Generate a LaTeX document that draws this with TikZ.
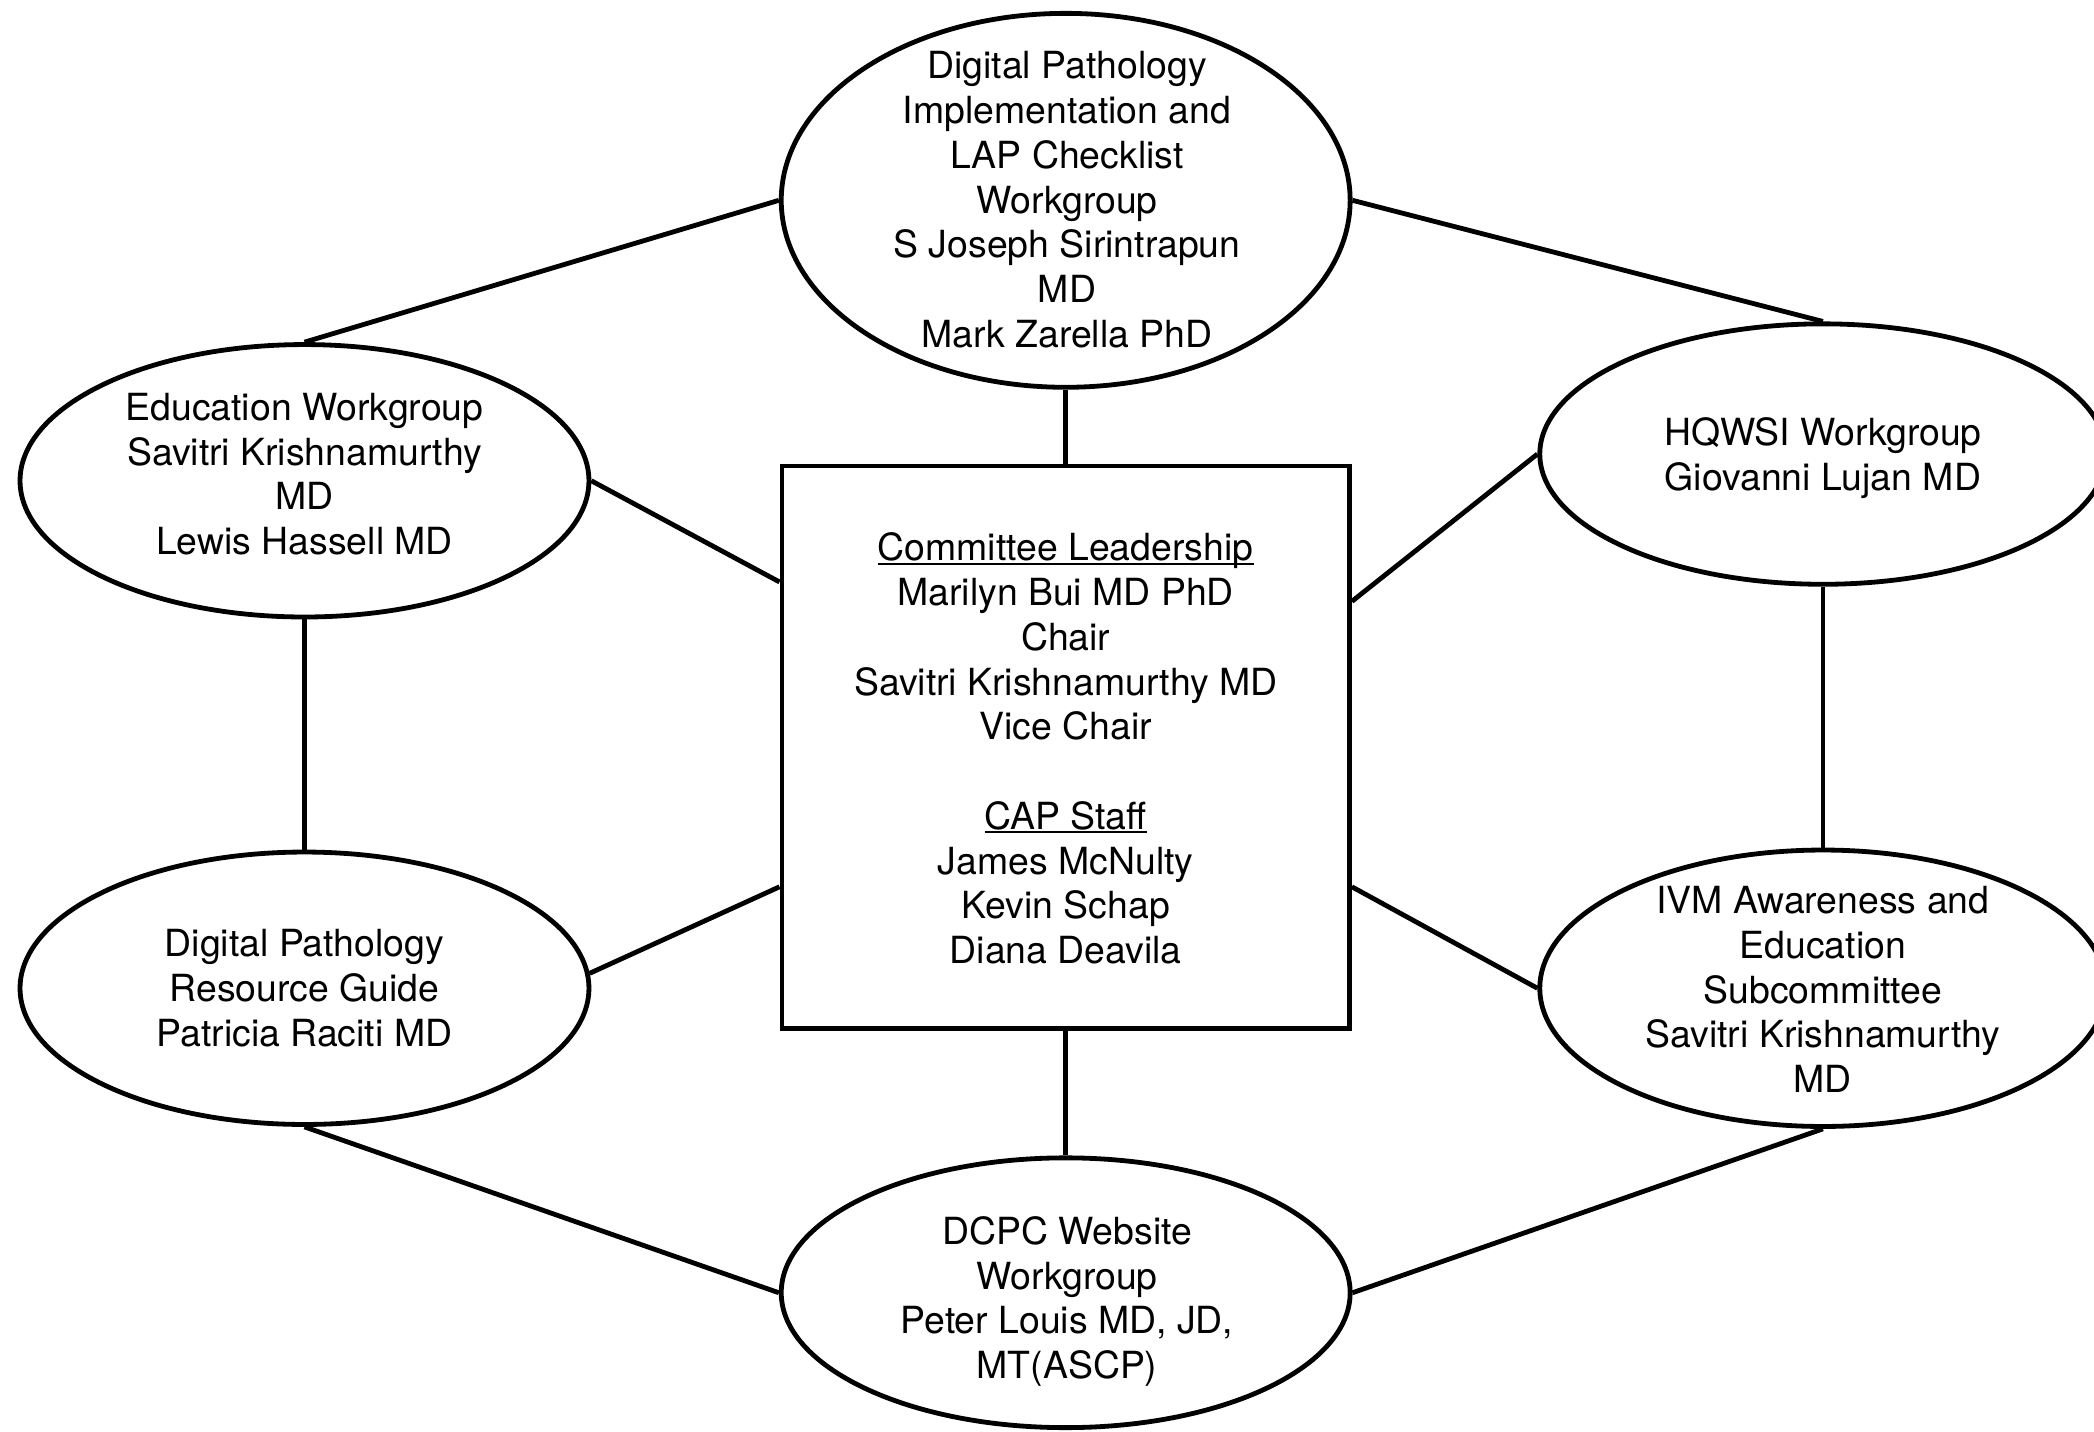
\documentclass[tikz,border=0pt]{standalone}
\usepackage{fontspec}
\setmainfont{TeX Gyre Heros}
\usetikzlibrary{shapes.geometric}
\newcommand\undl[1]{\setbox0\hbox{#1}\rlap{\rule[-3pt]{\wd0}{1.7pt}}\box0}

\begin{document}
\begin{tikzpicture}[x=1pt,y=1pt,yscale=-1,xscale=1,
    wg/.style={draw,ellipse,line width=3.6pt,inner sep=0pt},
    lbl/.style={align=center,inner sep=0pt,font=\fontsize{28}{33.5}\selectfont},
    link/.style={line width=3.6pt}]
    \useasboundingbox (0,0) rectangle (1568,1072);
    \clip (0,0) rectangle (1568,1072);
    %Shape: Rectangle
    \node[draw,line width=3.6pt,inner sep=0pt,minimum width=425pt,minimum height=421pt] (lead) at (798,559.5) {};
    %Shape: Ellipse
    \node[wg,minimum width=426pt,minimum height=280pt] (dpi) at (798,150) {};
    \node[wg,minimum width=426pt,minimum height=204pt] (edu) at (228,360) {};
    \node[wg,minimum width=424pt,minimum height=195pt] (hqw) at (1365,340) {};
    \node[wg,minimum width=426pt,minimum height=204pt] (guide) at (228,740) {};
    \node[wg,minimum width=424pt,minimum height=207pt] (ivm) at (1365,740) {};
    \node[wg,minimum width=426pt,minimum height=202pt] (web) at (798,968) {};

    %Straight Lines
    \draw[link] (dpi.west) -- (edu.north);
    \draw[link] (dpi.east) -- (hqw.north);
    \draw[link] (dpi.south) -- (lead.north);
    \draw[link] (edu.east) -- (lead.150);
    \draw[link] (hqw.west) -- (lead.27);
    \draw[link] (edu.south) -- (guide.north);
    \draw[link] (hqw.south) -- (ivm.north);
    \draw[link] (guide.3) -- (lead.206);
    \draw[link] (ivm.west) -- (lead.-26);
    \draw[link] (lead.south) -- (web.north);
    \draw[link] (guide.south) -- (web.west);
    \draw[link] (ivm.south) -- (web.east);

    % Text Node
    \node[lbl] (lead-t) at (798,560.5) {\undl{Committee Leadership}\\Marilyn Bui MD PhD\\Chair\\Savitri Krishnamurthy MD\\Vice Chair\\[33.5pt]\undl{CAP Staff}\\James McNulty\\Kevin Schap\\Diana Deavila};
    % Text Node
    \node[lbl] (dpi-t) at (799,149.5) {Digital Pathology\\Implementation and\\LAP Checklist\\Workgroup\\S Joseph Sirintrapun\\MD\\Mark Zarella PhD};
    % Text Node
    \node[lbl] (edu-t) at (228,355) {Education Workgroup\\Savitri Krishnamurthy\\MD\\Lewis Hassell MD};
    % Text Node
    \node[lbl] (hqw-t) at (1365,343) {HQWSI Workgroup\\Giovanni Lujan MD};
    % Text Node
    \node[lbl] (guide-t) at (228,740) {Digital Pathology\\Resource Guide\\Patricia Raciti MD};
    % Text Node
    \node[lbl] (ivm-t) at (1365,741) {IVM Awareness and\\Education\\Subcommittee\\Savitri Krishnamurthy\\MD};
    % Text Node
    \node[lbl] (web-t) at (799,974.5) {DCPC Website\\Workgroup\\Peter Louis MD, JD,\\MT(ASCP)};
\end{tikzpicture}
\end{document}
